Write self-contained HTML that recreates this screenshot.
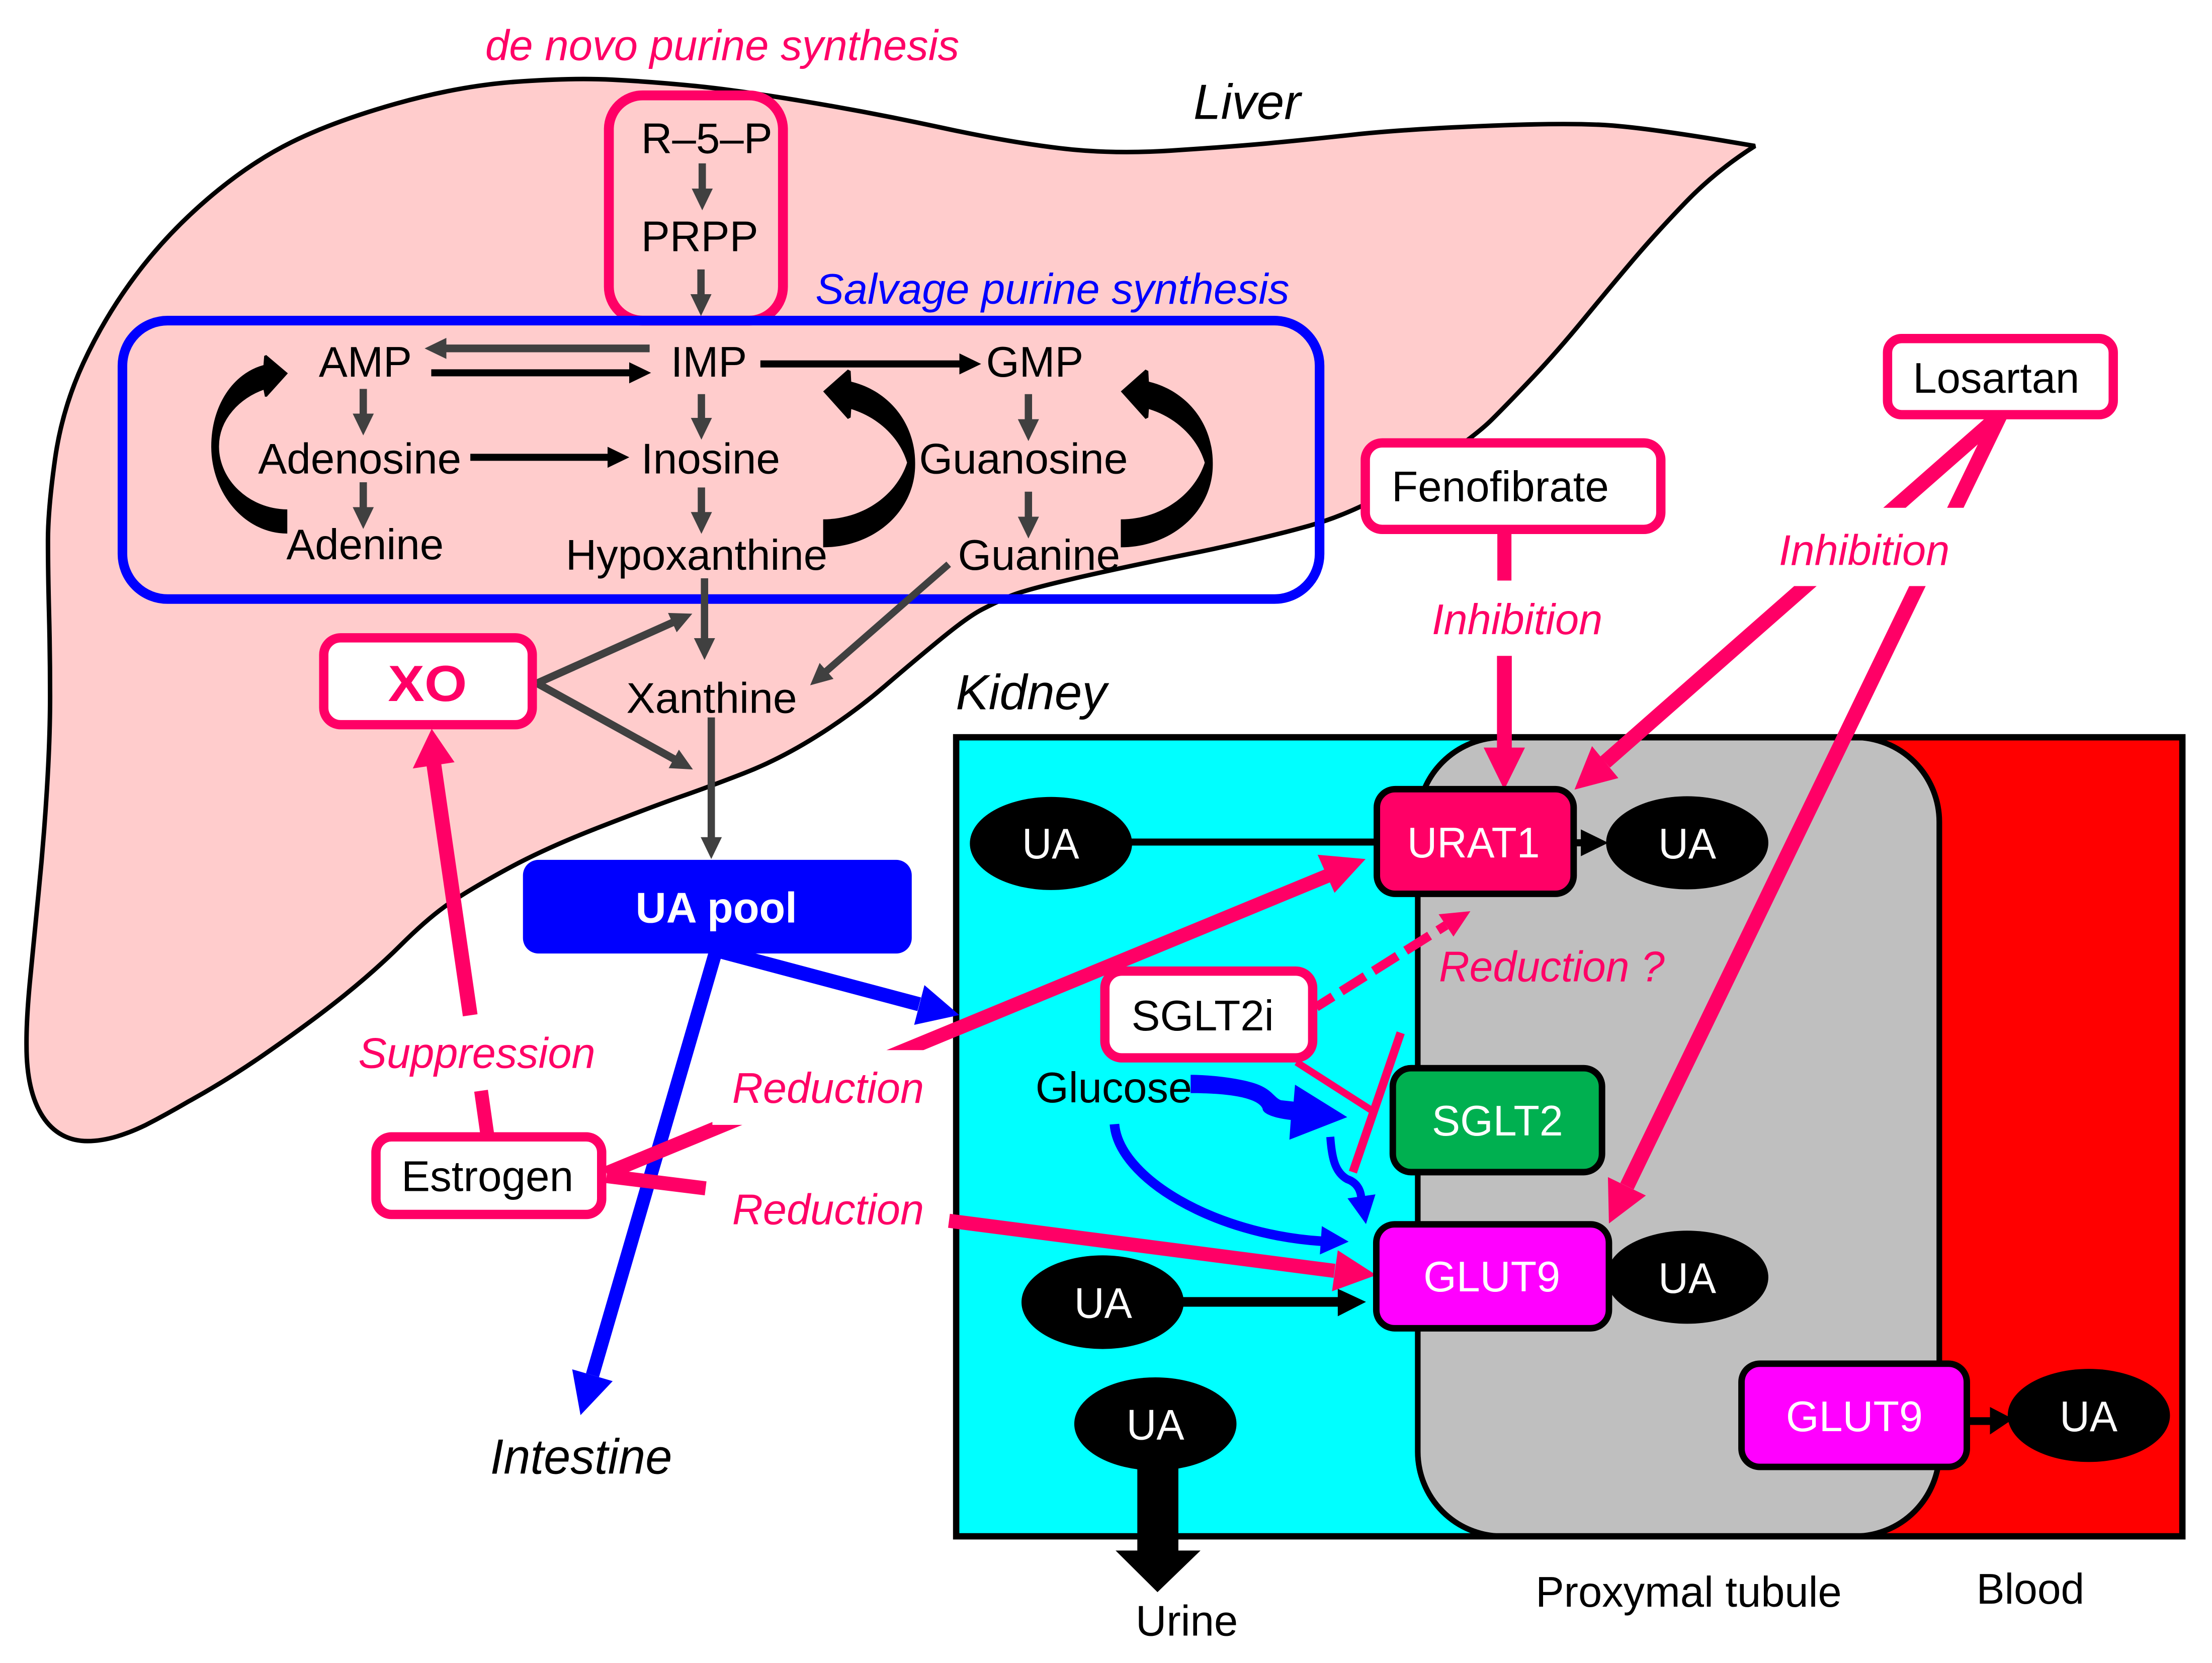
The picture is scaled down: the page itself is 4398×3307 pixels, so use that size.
<!DOCTYPE html>
<html><head><meta charset="utf-8"><style>
html,body{margin:0;padding:0;background:#fff}
svg{display:block}
text{font-family:"Liberation Sans",sans-serif;font-size:30.5px}
.i{font-style:italic}.p{fill:#ff0066;font-style:italic}
</style></head><body>
<svg xmlns="http://www.w3.org/2000/svg" width="4398" height="3307" viewBox="0 0 1568 1179">
<defs>
<marker id="g" markerUnits="userSpaceOnUse" markerWidth="17" markerHeight="17" refX="1" refY="8" orient="auto"><path d="M0,.5L15.5,8L0,15.5z" fill="#404040"/></marker>
<marker id="b" markerUnits="userSpaceOnUse" markerWidth="17" markerHeight="17" refX="1" refY="8" orient="auto"><path d="M0,.5L15.5,8L0,15.5z" fill="#000"/></marker>
</defs>
<rect width="1568" height="1179" fill="#fff"/>
<!-- liver -->
<path d="M1244,103.5Q1166,90 1135,88.5Q1104,87 1047.5,89.5Q991,92 959,95.5Q927,99 900,101.5Q873,104 830,106.75Q787.5,109.5 750.75,105Q714,100.6 666.5,90.3Q619,80 571,72Q523,64 493.25,61Q463.5,58 434.25,56.5Q405,55 365,58Q325,61 280.75,73.5Q236.5,86 206.75,100.75Q177,115.5 147.5,140.75Q118,166 96,195.5Q74,225 59,257.5Q44,290 39,325.5Q34,361 34,383Q34,405 34.75,434.5Q35.5,464 35.5,493.5Q35.5,523 33.25,559.75Q31,596.5 27.3,633.25Q23.6,670 21.1,697Q18.6,724 18.8,741.5C18.8,785 35,809 62,809C76,809 90,804 103.5,797.5Q118,790 133,781.25Q162.6,765 192,744.3Q221.7,723.6 243.85,705.8Q266,688 283.75,670.35Q301.5,652.7 314.75,643.1Q328,633.5 356,618Q384,602.4 423.75,586.9Q463.5,571.4 482.75,564.7Q502,558 527.3,548.2Q552.6,538.4 578.5,522.2Q604.4,506 627.1,486.5Q649.8,467 668.15,452Q686.5,437 696.25,432Q706,427 715.7,422.75Q725.4,418.5 757.7,411Q790,403.4 840.65,393.2Q891.3,383 928.15,372.7Q965,362.4 1004.5,336.7Q1044,311 1057.5,297.5Q1071,284 1087.5,266.5Q1104,249 1122.5,226.5Q1141,204 1157.5,184.5Q1174,165 1195.25,143Q1216.5,121 1244,103.5Z" fill="#ffcccc" stroke="#000" stroke-width="3.2" stroke-linejoin="bevel"/>
<!-- kidney -->
<rect x="678" y="522.7" width="600" height="566.5" fill="#00ffff"/>
<rect x="1200" y="522.7" width="347" height="566.5" fill="#ff0000"/>
<rect x="1005" y="522.7" width="369.7" height="566.5" rx="60" fill="#bfbfbf" stroke="#000" stroke-width="4"/>
<rect x="677.8" y="522.7" width="869.2" height="566.5" fill="none" stroke="#000" stroke-width="4.5"/>
<!-- de novo box and salvage box -->
<rect x="431.6" y="67.6" width="123.4" height="159.7" rx="24" fill="none" stroke="#ff0066" stroke-width="7"/>
<rect x="86.8" y="227.3" width="848.6" height="197.4" rx="32" fill="none" stroke="#0000ff" stroke-width="6.8"/>
<!-- gray arrows -->
<g stroke="#404040" stroke-width="5.2" fill="none">
<line x1="497.8" y1="115.8" x2="497.8" y2="134.6" marker-end="url(#g)"/>
<line x1="496.9" y1="191" x2="496.9" y2="209.5" marker-end="url(#g)"/>
<line x1="257.5" y1="275.7" x2="257.5" y2="294.2" marker-end="url(#g)"/>
<line x1="497.2" y1="279.4" x2="497.2" y2="297.2" marker-end="url(#g)"/>
<line x1="257.5" y1="341.9" x2="257.5" y2="360.5" marker-end="url(#g)"/>
<line x1="497.2" y1="345.6" x2="497.2" y2="364" marker-end="url(#g)"/>
<line x1="729" y1="279.4" x2="729" y2="298.2" marker-end="url(#g)"/>
<line x1="729" y1="348.6" x2="729" y2="367.3" marker-end="url(#g)"/>
<line x1="499.4" y1="410" x2="499.4" y2="453.4" marker-end="url(#g)"/>
<line x1="504.2" y1="508.6" x2="504.2" y2="594.5" marker-end="url(#g)"/>
<line x1="460.5" y1="247" x2="315.5" y2="247" stroke-width="5.5" marker-end="url(#g)"/>
<line x1="380.7" y1="484.4" x2="477.5" y2="441" stroke-width="5.4" marker-end="url(#g)"/>
<line x1="380.7" y1="484.4" x2="478.5" y2="538.5" stroke-width="5.4" marker-end="url(#g)"/>
<line x1="672.5" y1="400" x2="585.2" y2="476.3" stroke-width="5" marker-end="url(#g)"/>
</g>
<!-- black straight arrows -->
<g stroke="#000" stroke-width="5" fill="none">
<line x1="305.7" y1="264.3" x2="447" y2="264.3" marker-end="url(#b)"/>
<line x1="539" y1="258" x2="681" y2="258" marker-end="url(#b)"/>
<line x1="333.4" y1="324.2" x2="431.6" y2="324.2" marker-end="url(#b)"/>
<line x1="800" y1="597" x2="980" y2="597"/>
</g>
<!-- fat curved arrows -->
<path d="M203.4,361.4C176,361 155,340 155,316.5C155,297 170,282 187,276L188,281L189,281L203.7,264.7L188.7,252L187.5,252.5L187,259C165,265 150,288 150,316.5C150,350 174,378 203.4,378Z" fill="#000" stroke="#000" stroke-width=".5"/>
<path d="M583.5,368.2C613,368 636,350 643,328C637,308 620,295 603.4,290L603,296L601,297L583.5,277.5L601,262L603,263L603.4,270.6C630,277 649,300 648.7,329C649,362 620,388 583.5,388Z" fill="#000"/>
<path d="M794.5,368.2C824,368 847,350 854,328C848,308 831,295 814.4,290L814,296L812,297L794.5,277.5L812,262L814,263L814.4,270.6C841,277 860,300 859.7,329C860,362 831,388 794.5,388Z" fill="#000"/>
<!-- UA pool -->
<rect x="370.7" y="609.6" width="275.6" height="66.4" rx="11" fill="#0000ff"/>
<!-- blue arrows from pool -->
<line x1="505" y1="673" x2="651.6" y2="712" stroke="#0000ff" stroke-width="10"/>
<polygon points="680,719.6 655.3,698.4 648,726.6" fill="#0000ff"/>
<line x1="507" y1="676" x2="420" y2="975" stroke="#0000ff" stroke-width="9.6"/>
<polygon points="411.5,1003.3 405.6,970.8 434.3,979.2" fill="#0000ff"/>
<!-- pink long arrows with masks -->
<g fill="#ff0066" stroke="none">
<line x1="333.3" y1="719.8" x2="307.4" y2="541" stroke="#ff0066" stroke-width="10.5"/>
<polygon points="306,516.7 292.6,544.8 322.2,540.4"/>
<line x1="341" y1="773.3" x2="345.5" y2="805" stroke="#ff0066" stroke-width="9.8"/>
<line x1="430" y1="831.8" x2="942" y2="620.5" stroke="#ff0066" stroke-width="10"/>
<polygon points="968,609 934,606 946,633"/>
<line x1="430" y1="833.8" x2="500.2" y2="842.5" stroke="#ff0066" stroke-width="10"/>
<line x1="672.7" y1="865.5" x2="946" y2="901" stroke="#ff0066" stroke-width="10"/>
<polygon points="975.6,904 948.3,886.4 944.2,915.5"/>
<line x1="1066.4" y1="376" x2="1066.4" y2="411.6" stroke="#ff0066" stroke-width="10"/>
<line x1="1066.4" y1="465" x2="1066.4" y2="531" stroke="#ff0066" stroke-width="10.5"/>
<polygon points="1066.3,559.8 1051.7,530 1081,530"/>
<line x1="1418" y1="294" x2="1137.8" y2="540.3" stroke="#ff0066" stroke-width="10.5"/>
<polygon points="1116.1,559.8 1128.5,529 1147.2,551.6"/>
<line x1="1418" y1="294" x2="1153.3" y2="841" stroke="#ff0066" stroke-width="10.5"/>
<polygon points="1140.5,867.4 1139.8,834.5 1166.7,847.6"/>
</g>
<rect x="1250" y="360" width="150" height="55.5" fill="#fff"/>
<rect x="505" y="744.5" width="155" height="53" fill="#fff"/>
<!-- dashed and inhibit -->
<line x1="933" y1="714" x2="1025" y2="656" stroke="#ff0066" stroke-width="6.5" stroke-dasharray="20 7" stroke-dashoffset="6"/>
<polygon points="1042.3,646 1019.8,648.2 1030.3,664" fill="#ff0066"/>
<line x1="919" y1="753" x2="972" y2="787" stroke="#ff0066" stroke-width="5"/>
<line x1="992.9" y1="732.2" x2="959" y2="831" stroke="#ff0066" stroke-width="6"/>
<!-- glucose arrows -->
<path d="M844,762C860,762 882,765 892,769C902,773 903,778 908,780L917,781L918,769L955,792L914,808L915,794C905,793 895,790 895,786C893,781 882,775 844,775Z" fill="#0000ff"/>
<path d="M790,797C793,835 860,875 937,880" fill="none" stroke="#0000ff" stroke-width="6.8"/>
<polygon points="956,880.3 937,869.3 935.6,889.4" fill="#0000ff"/>
<path d="M943,806C944,820 946,831 955,836C961,838 965,843 965,851" fill="none" stroke="#0000ff" stroke-width="5.7"/>
<polygon points="968.3,867.8 955.2,849.6 975,846.8" fill="#0000ff"/>
<!-- black arrows kidney -->
<line x1="838" y1="923" x2="950" y2="923" stroke="#000" stroke-width="6.8"/>
<polygon points="968.3,923 948.3,913.7 948.3,933.2" fill="#000"/>
<polygon points="806.2,1040 835.3,1040 835.3,1099.3 851,1099.3 820.5,1128.8 790.8,1099.3 806.2,1099.3" fill="#000"/>
<line x1="1112" y1="597.5" x2="1125" y2="597.5" stroke="#000" stroke-width="5"/>
<polygon points="1120.6,588 1140,597.5 1120.6,607" fill="#000"/>
<line x1="1390" y1="1007.5" x2="1412" y2="1007.5" stroke="#000" stroke-width="5.5"/>
<polygon points="1410.6,997.5 1427,1006 1410.6,1017" fill="#000"/>
<!-- UA ellipses -->
<g fill="#000">
<ellipse cx="745" cy="598" rx="57.5" ry="33"/>
<ellipse cx="1196" cy="597.5" rx="57.5" ry="33"/>
<ellipse cx="1196" cy="905.5" rx="57.5" ry="33"/>
<ellipse cx="781.6" cy="923.2" rx="57.5" ry="33.2"/>
<ellipse cx="819" cy="1009.5" rx="57.5" ry="33"/>
<ellipse cx="1480.7" cy="1003.5" rx="57.5" ry="33"/>
</g>
<!-- transporter boxes -->
<g stroke="#000" stroke-width="4.6">
<rect x="976" y="559.5" width="139.5" height="74.2" rx="13" fill="#ff0066"/>
<rect x="975.6" y="868" width="164.9" height="73.7" rx="13" fill="#ff00ff"/>
<rect x="987.3" y="757.3" width="148.3" height="73.7" rx="13" fill="#00b050"/>
<rect x="1234.5" y="966.8" width="159.7" height="73.2" rx="13" fill="#ff00ff"/>
</g>
<!-- pink boxes -->
<g fill="#fff" stroke="#ff0066" stroke-width="6.6">
<rect x="229.5" y="452.2" width="147.8" height="61.6" rx="12"/>
<rect x="266.5" y="806" width="160" height="55" rx="11"/>
<rect x="967.8" y="314" width="209.5" height="61.3" rx="12"/>
<rect x="1338" y="240" width="160" height="54" rx="10"/>
<rect x="783.2" y="688.5" width="147.3" height="61.5" rx="12"/>
</g>
<!-- labels -->
<text class="p" x="344" y="42.6" textLength="336" lengthAdjust="spacingAndGlyphs">de novo purine synthesis</text>
<text class="i" x="846" y="84.3" style="font-size:35px" textLength="76" lengthAdjust="spacingAndGlyphs">Liver</text>
<text class="i" x="578" y="215.3" fill="#0000ff" textLength="336" lengthAdjust="spacingAndGlyphs">Salvage purine synthesis</text>
<text x="454.5" y="108.5" textLength="93" lengthAdjust="spacingAndGlyphs">R–5–P</text>
<text x="454.5" y="178" textLength="83" lengthAdjust="spacingAndGlyphs">PRPP</text>
<text x="226" y="267" textLength="66" lengthAdjust="spacingAndGlyphs">AMP</text>
<text x="475.5" y="267" textLength="54" lengthAdjust="spacingAndGlyphs">IMP</text>
<text x="699" y="267" textLength="69" lengthAdjust="spacingAndGlyphs">GMP</text>
<text x="183" y="335.6" textLength="144" lengthAdjust="spacingAndGlyphs">Adenosine</text>
<text x="454.5" y="335.6" textLength="98.5" lengthAdjust="spacingAndGlyphs">Inosine</text>
<text x="651.5" y="335.6" textLength="148" lengthAdjust="spacingAndGlyphs">Guanosine</text>
<text x="203" y="396.4" textLength="111.5" lengthAdjust="spacingAndGlyphs">Adenine</text>
<text x="401" y="404" textLength="185.5" lengthAdjust="spacingAndGlyphs">Hypoxanthine</text>
<text x="679" y="404" textLength="115" lengthAdjust="spacingAndGlyphs">Guanine</text>
<text x="444" y="505.4" textLength="121" lengthAdjust="spacingAndGlyphs">Xanthine</text>
<text x="275" y="497" style="font-size:36px;font-weight:bold" fill="#ff0066" textLength="56" lengthAdjust="spacingAndGlyphs">XO</text>
<text x="450.5" y="654" style="font-weight:bold" fill="#fff" textLength="114.5" lengthAdjust="spacingAndGlyphs">UA pool</text>
<text x="986.5" y="355.5" textLength="154" lengthAdjust="spacingAndGlyphs">Fenofibrate</text>
<text x="1356" y="278.5" textLength="118" lengthAdjust="spacingAndGlyphs">Losartan</text>
<text x="284.5" y="844.5" textLength="122" lengthAdjust="spacingAndGlyphs">Estrogen</text>
<text x="802" y="730.5" textLength="101" lengthAdjust="spacingAndGlyphs">SGLT2i</text>
<text x="734" y="781.5" textLength="111" lengthAdjust="spacingAndGlyphs">Glucose</text>
<text class="p" x="1015" y="449.5" textLength="121" lengthAdjust="spacingAndGlyphs">Inhibition</text>
<text class="p" x="1261" y="400.5" textLength="121" lengthAdjust="spacingAndGlyphs">Inhibition</text>
<text class="p" x="254" y="757" textLength="168" lengthAdjust="spacingAndGlyphs">Suppression</text>
<text class="p" x="519" y="781.8" textLength="136" lengthAdjust="spacingAndGlyphs">Reduction</text>
<text class="p" x="519" y="868" textLength="136" lengthAdjust="spacingAndGlyphs">Reduction</text>
<text class="p" x="1020" y="695.8" textLength="160" lengthAdjust="spacingAndGlyphs">Reduction ?</text>
<text class="i" x="677.5" y="502.8" style="font-size:35px" textLength="107" lengthAdjust="spacingAndGlyphs">Kidney</text>
<text class="i" x="347.5" y="1044.7" style="font-size:35px" textLength="129" lengthAdjust="spacingAndGlyphs">Intestine</text>
<text x="805" y="1159.5" textLength="72.5" lengthAdjust="spacingAndGlyphs">Urine</text>
<text x="1088.5" y="1139" textLength="217" lengthAdjust="spacingAndGlyphs">Proxymal tubule</text>
<text x="1401" y="1137" textLength="76.5" lengthAdjust="spacingAndGlyphs">Blood</text>
<text x="724.5" y="608.5" fill="#fff" textLength="40.5" lengthAdjust="spacingAndGlyphs">UA</text>
<text x="1175.5" y="608.5" fill="#fff" textLength="41" lengthAdjust="spacingAndGlyphs">UA</text>
<text x="1175.5" y="916.7" fill="#fff" textLength="41" lengthAdjust="spacingAndGlyphs">UA</text>
<text x="761.5" y="934.2" fill="#fff" textLength="41" lengthAdjust="spacingAndGlyphs">UA</text>
<text x="798.5" y="1020.6" fill="#fff" textLength="41" lengthAdjust="spacingAndGlyphs">UA</text>
<text x="1460" y="1014.7" fill="#fff" textLength="41" lengthAdjust="spacingAndGlyphs">UA</text>
<text x="997.5" y="607.8" fill="#fff" textLength="94" lengthAdjust="spacingAndGlyphs">URAT1</text>
<text x="1009" y="915.5" fill="#fff" textLength="97" lengthAdjust="spacingAndGlyphs">GLUT9</text>
<text x="1015" y="805" fill="#fff" textLength="93" lengthAdjust="spacingAndGlyphs">SGLT2</text>
<text x="1266" y="1014.7" fill="#fff" textLength="97" lengthAdjust="spacingAndGlyphs">GLUT9</text>
</svg>
</body></html>
